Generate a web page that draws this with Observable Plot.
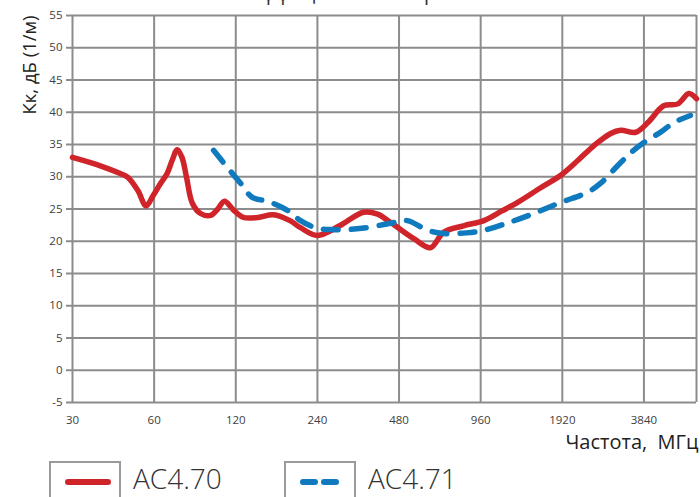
<!DOCTYPE html>
<html><head><meta charset="utf-8">
<script src="https://cdn.jsdelivr.net/npm/d3@7"></script>
<script src="https://cdn.jsdelivr.net/npm/@observablehq/plot@0.6"></script>
<style>
body{margin:0;background:#fff;font-family:"Open Sans",sans-serif;}
#wrap{position:relative;width:700px;height:497px;overflow:hidden;}
#title{position:absolute;left:0;width:710px;text-align:center;top:-17px;font-size:20px;line-height:20px;color:#333;white-space:nowrap;}
.lbox{position:absolute;top:461px;width:72px;height:50px;border:2px solid #9a9a9a;box-sizing:border-box;}
.lbox svg{position:absolute;left:0;top:0;}
.ltxt{position:absolute;top:458px;font-size:28px;font-weight:300;color:#333;line-height:40px;}
</style></head><body>
<div id="wrap">
<div id="title">Коэффициент калибровки</div>
</div>
<script>
const xTicks = [30, 60, 120, 240, 480, 960, 1920, 3840];
const yTicks = [-5, 0, 5, 10, 15, 20, 25, 30, 35, 40, 45, 50, 55];
const seriesNames = ["АС4.70", "АС4.71"];

const freqA = [30, 38, 45, 48, 52.2, 56, 59.5, 63, 67, 70, 73, 76, 79, 83, 89, 97, 103, 109, 118, 128, 145, 165, 190, 208, 240, 290, 355, 400, 447, 544, 627, 701, 830, 987, 1150, 1310, 1598, 1890, 2200, 2508, 2895, 3150, 3585, 3970, 4540, 5120, 5620, 6000];
const valA  = [33.0, 31.7, 30.5, 29.9, 27.9, 25.5, 27.1, 28.8, 30.5, 32.6, 34.2, 33.0, 29.9, 25.9, 24.3, 24.0, 25.0, 26.2, 24.8, 23.7, 23.7, 24.1, 23.2, 22.1, 20.9, 22.4, 24.5, 24.2, 22.9, 20.4, 19.0, 21.4, 22.4, 23.2, 24.7, 26.0, 28.3, 30.2, 32.6, 34.8, 36.7, 37.2, 36.9, 38.4, 41.0, 41.3, 42.9, 42.1];

const freqB = [99.4, 112, 125, 138, 157, 186, 208, 240, 276, 350, 447, 515, 612, 701, 850, 987, 1200, 1505, 1890, 2380, 2660, 3070, 3430, 3840, 4420, 4950, 5700];
const valB  = [34.1, 31.4, 29.0, 26.8, 26.2, 24.8, 23.2, 22.0, 21.8, 22.0, 22.8, 23.2, 21.7, 21.2, 21.3, 21.7, 22.8, 24.3, 26.0, 27.6, 29.0, 31.7, 33.7, 35.3, 36.9, 38.4, 39.5];

const colA = "#d0242b", colB = "#0f7abd", grid = "#8c8c8c";
const dataA = freqA.map((f, i) => ({f, v: valA[i]}));
const dataB = freqB.map((f, i) => ({f, v: valB[i]}));

const chart = Plot.plot({
  width: 700, height: 497,
  marginTop: 15, marginLeft: 72, marginRight: 4, marginBottom: 95,
  style: {fontFamily: "'Open Sans', sans-serif", background: "transparent", color: "#404040"},
  x: {type: "log", domain: [30, 6000], axis: null},
  y: {domain: [-5, 55]},
  marks: [
    Plot.ruleX(xTicks, {stroke: grid, strokeWidth: 2}),
    Plot.ruleX([6000], {stroke: grid, strokeWidth: 2}),
    Plot.ruleY(yTicks, {stroke: grid, strokeWidth: 2}),
    Plot.axisY(yTicks, {tickSize: 6, stroke: grid, strokeWidth: 2, tickPadding: 4, fontSize: 11.5, tickFormat: d => String(d), label: null}),
    Plot.text(xTicks, {x: d => d, y: -5, text: d => String(d), dy: 18, fontSize: 11.5, fill: "#404040"}),
    Plot.line(dataA, {x: "f", y: "v", stroke: colA, strokeWidth: 5.5, curve: "catmull-rom", strokeLinecap: "round", strokeLinejoin: "round"}),
    Plot.line(dataB, {x: "f", y: "v", stroke: colB, strokeWidth: 5.5, curve: "catmull-rom", strokeDasharray: "15 13", strokeLinecap: "round"}),
    Plot.text(["Кк, дБ (1/м)"], {frameAnchor: "top-left", rotate: -90, textAnchor: "end", dx: -50, dy: 0, fontSize: 18.5, fill: "#222"}),
    Plot.text(["Частота,  МГц"], {frameAnchor: "bottom-right", textAnchor: "end", dx: 2, dy: 46, fontSize: 20, fill: "#222"})
  ]
});
const wrap = document.getElementById("wrap");
chart.style.position = "absolute";
chart.style.left = "0"; chart.style.top = "0";
wrap.appendChild(chart);

// legend
const legendPos = [{box: 49, txt: 133}, {box: 284, txt: 368}];
seriesNames.forEach((name, i) => {
  const b = document.createElement("div");
  b.className = "lbox";
  b.style.left = legendPos[i].box + "px";
  const ns = "http://www.w3.org/2000/svg";
  const s = document.createElementNS(ns, "svg");
  s.setAttribute("width", 72); s.setAttribute("height", 40);
  const l = document.createElementNS(ns, "line");
  l.setAttribute("x1", 17); l.setAttribute("x2", 57);
  l.setAttribute("y1", 19); l.setAttribute("y2", 19);
  l.setAttribute("stroke", i === 0 ? colA : colB);
  l.setAttribute("stroke-width", 6);
  l.setAttribute("stroke-linecap", "round");
  if (i === 1) l.setAttribute("stroke-dasharray", "12 9");
  s.appendChild(l);
  b.appendChild(s);
  wrap.appendChild(b);
  const t = document.createElement("div");
  t.className = "ltxt";
  t.style.left = legendPos[i].txt + "px";
  t.textContent = name;
  wrap.appendChild(t);
});
</script>
</body></html>
